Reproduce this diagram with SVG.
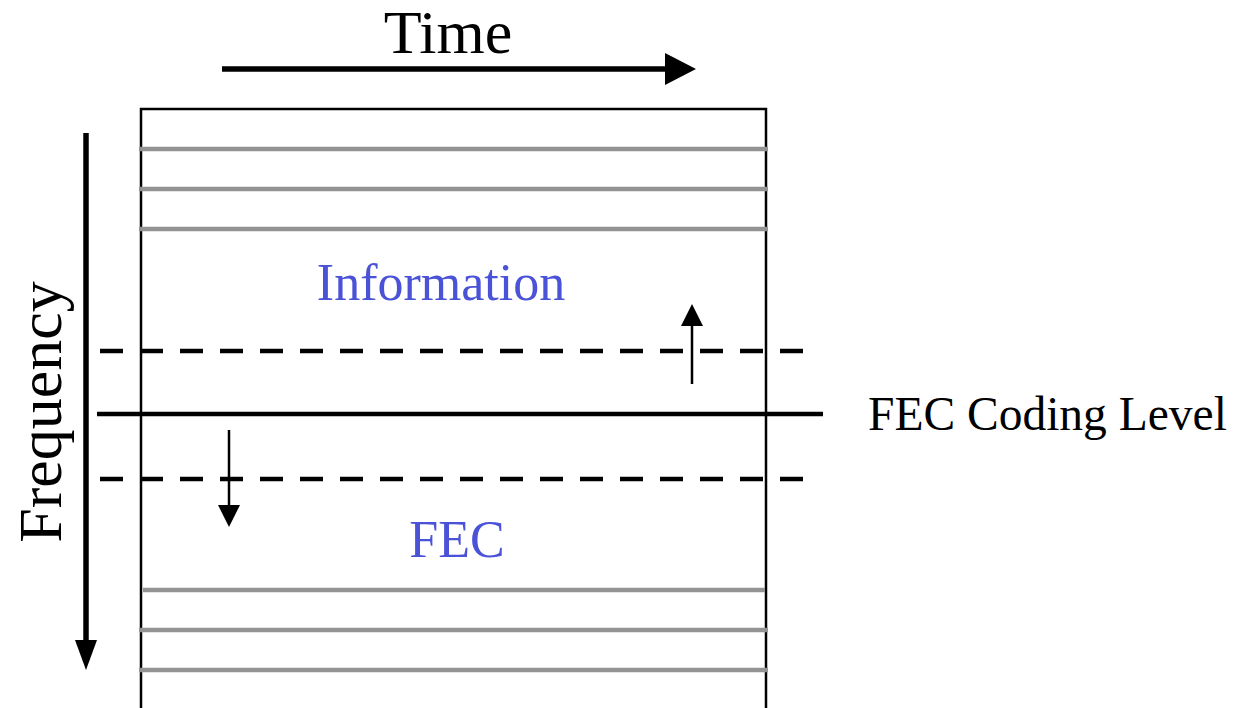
<svg xmlns="http://www.w3.org/2000/svg" width="1245" height="708" viewBox="0 0 1245 708">
<style>
.serif{font-family:"Liberation Serif","Times New Roman",serif}
.blue{fill:#4a52d8}
.gray{stroke:#939393;stroke-width:4.5}
.dash{stroke:#000;stroke-width:4.5;stroke-dasharray:23 17}
</style>
<rect width="1245" height="708" fill="#fff"/>
<g id="frame">
<path d="M141,708 V109 H766 V708" fill="none" stroke="#000" stroke-width="2.5"/>
</g>
<g id="bands">
<line class="gray" x1="139" y1="149" x2="768" y2="149"/>
<line class="gray" x1="139" y1="189" x2="768" y2="189"/>
<line class="gray" x1="139" y1="229" x2="768" y2="229"/>
<line class="gray" x1="143" y1="590" x2="765" y2="590"/>
<line class="gray" x1="139" y1="630" x2="768" y2="630"/>
<line class="gray" x1="139" y1="670" x2="768" y2="670"/>
</g>
<g id="levels">
<line class="dash" x1="100" y1="351" x2="808" y2="351"/>
<line x1="97" y1="414" x2="823" y2="414" stroke="#000" stroke-width="4.5"/>
<line class="dash" x1="100" y1="479" x2="808" y2="479"/>
</g>
<g id="connectors">
<line x1="222" y1="69" x2="667" y2="69" stroke="#000" stroke-width="5.5"/>
<polygon points="665,53 696,69 665,85"/>
<line x1="86" y1="133" x2="86" y2="642" stroke="#000" stroke-width="5.5"/>
<polygon points="75,640 97,640 86,670"/>
<line x1="229" y1="430" x2="229" y2="506" stroke="#000" stroke-width="2.5"/>
<polygon points="218,505 240,505 229,527"/>
<line x1="692" y1="384" x2="692" y2="324" stroke="#000" stroke-width="2.5"/>
<polygon points="681,326 703,326 692,304"/>
</g>
<g id="labels">
<text class="serif" x="448" y="53" font-size="62" text-anchor="middle">Time</text>
<text class="serif" transform="translate(61,412) rotate(-90)" font-size="62" text-anchor="middle">Frequency</text>
<text class="serif blue" x="441" y="300" font-size="52" text-anchor="middle">Information</text>
<text class="serif blue" x="457" y="557" font-size="52" text-anchor="middle">FEC</text>
<text class="serif" x="868" y="430" font-size="47.5">FEC Coding Level</text>
</g>
</svg>
